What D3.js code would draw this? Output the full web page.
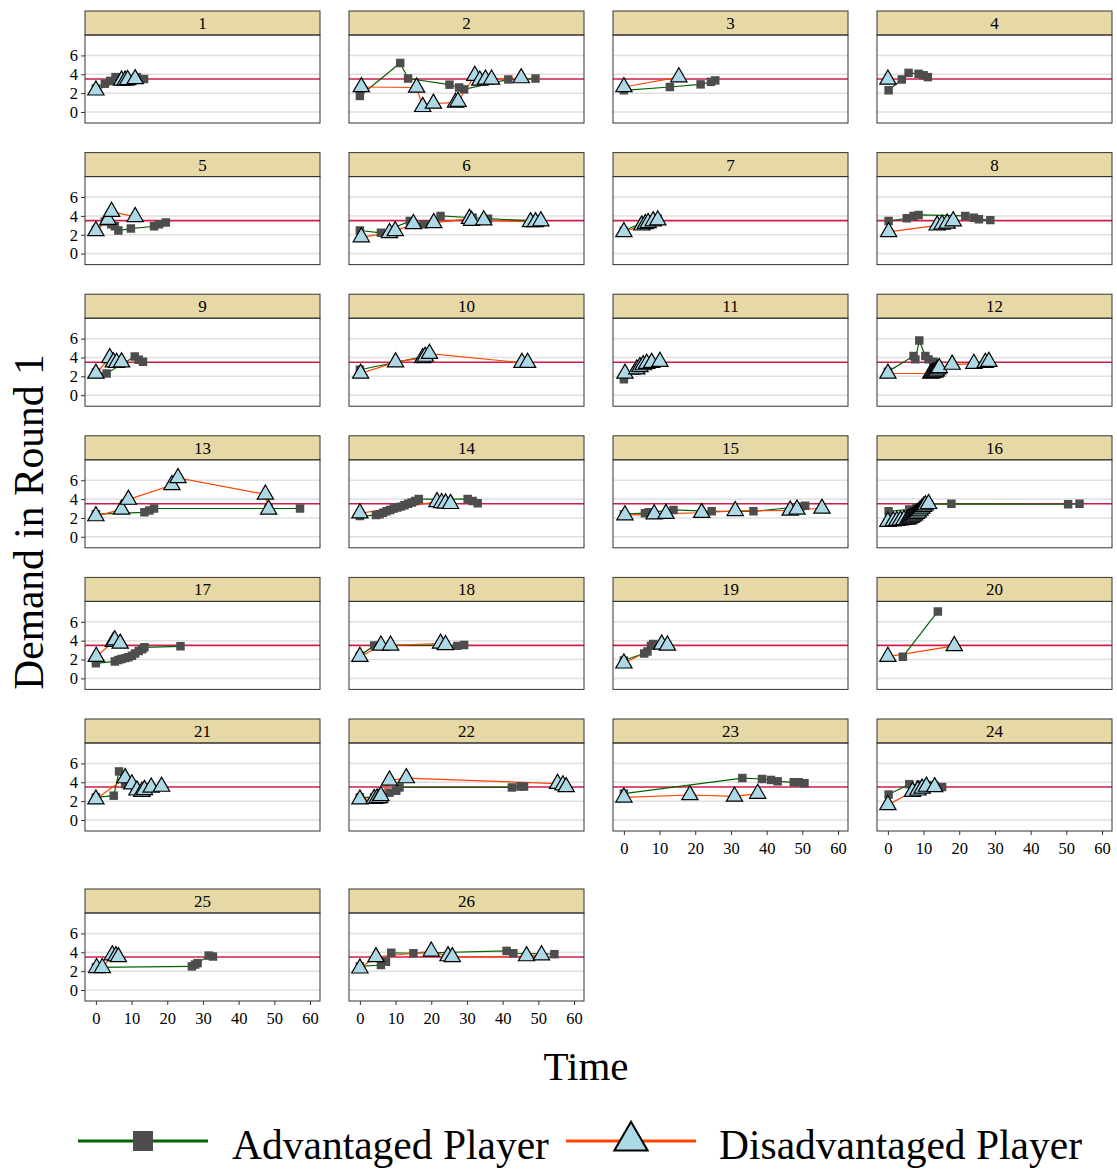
<!DOCTYPE html>
<html>
<head>
<meta charset="utf-8">
<script src="https://cdn.jsdelivr.net/npm/d3@7"></script>
<style>
  body { margin: 0; background: #fff; }
  svg text { font-family: "Liberation Serif", "Times New Roman", serif !important; fill: #000; }
</style>
</head>
<body>
<svg id="chart" width="1117" height="1174"></svg>
<script>
// panel ids, axis ticks and the reference demand line
var panelLabels = d3.range(1, 27).map(String);
var xTicks = [0, 10, 20, 30, 40, 50, 60];
var yTicks = [0, 2, 4, 6];
var referenceDemand = 3.5;
var seriesNames = ["Advantaged Player", "Disadvantaged Player"];

// [time, demand] per panel
var advantaged = [
  [[0,2.5],[2.5,3.0],[4,3.3],[5.5,3.7],[7,3.6],[8.5,3.5],[11.5,3.7],[13.5,3.5]],
  [[0,1.7],[11.3,5.2],[13.5,3.55],[25.1,2.9],[27.8,2.6],[29.2,2.4],[41.6,3.45],[49.2,3.55]],
  [[0,2.3],[12.9,2.65],[21.5,2.93],[24.4,3.2],[25.6,3.35]],
  [[0.2,2.3],[3.9,3.45],[5.8,4.15],[8.6,4.05],[10,3.9],[11.2,3.7]],
  [[0,2.5],[2.5,3.4],[4.3,3.1],[5.3,2.9],[6.3,2.45],[9.8,2.65],[16.3,2.9],[17.7,3.1],[19.6,3.3]],
  [[0,2.45],[5.9,2.2],[14,3.45],[17.8,3.1],[22.6,4.0],[31.6,3.8],[35.9,3.7],[49.7,3.45]],
  [[0,2.4],[5.5,3.35],[7,3.5],[8.5,3.6],[9.5,3.7]],
  [[0.2,3.45],[5.3,3.75],[7.2,4.0],[8.6,4.1],[21.7,4.0],[24.1,3.8],[25.5,3.65],[28.7,3.55]],
  [[0,2.4],[3,2.3],[10.9,4.1],[12,3.75],[13.2,3.55]],
  [[0,2.7],[18.5,4.15],[19.5,4.25]],
  [[0,1.7],[3.5,2.6],[4.5,2.8],[5.5,3.0],[7,3.2]],
  [[0,2.5],[7.2,4.15],[7.7,3.8],[8.8,5.8],[10.5,4.15],[11.4,3.8],[12.8,3.55]],
  [[0,2.4],[13.6,2.6],[15,2.8],[16.3,3.0],[48.4,3.0],[57.2,3.0]],
  [[0,2.2],[4.5,2.3],[5.5,2.4],[6.5,2.55],[7.5,2.7],[8.5,2.85],[9.5,3.0],[10.5,3.1],[11.5,3.2],[12.5,3.35],[13.5,3.5],[14.5,3.65],[15.5,3.8],[16.5,4.0],[30.2,4.0],[31.6,3.8],[33,3.55]],
  [[0,2.4],[5.9,2.5],[7,2.6],[13.9,2.85],[24.6,2.7],[36.3,2.7],[49.5,3.2],[50.8,3.3]],
  [[0.2,2.7],[6,2.9],[8,3.1],[10,3.3],[11.5,3.45],[17.8,3.5],[50.5,3.45],[53.7,3.5]],
  [[0,1.6],[5.3,1.8],[6.3,1.95],[7.2,2.05],[8.2,2.15],[9.1,2.25],[10.1,2.4],[11,2.65],[12,2.9],[13,3.1],[13.6,3.3],[23.7,3.4]],
  [[0,2.4],[4,3.5],[22.6,3.5],[27.3,3.45],[29.2,3.55]],
  [[0,1.9],[5.7,2.65],[6.6,2.85],[7.6,3.45],[8.2,3.65]],
  [[4.2,2.3],[14,7.1]],
  [[0,2.4],[5.0,2.58],[6.5,5.15],[8.2,3.8],[11,3.4],[13,3.3],[15.5,3.45]],
  [[0,2.4],[4,2.4],[5.9,2.6],[8.3,2.9],[10.2,3.1],[11.1,3.45],[42.6,3.45],[45,3.55],[46,3.55]],
  [[0,2.8],[33.2,4.45],[38.7,4.35],[41.2,4.25],[43.1,4.1],[47.6,4.0],[49,4.0],[50.6,3.9]],
  [[0.2,2.7],[6,3.8],[9,3.75],[11,3.7],[13,3.65],[15.2,3.5]],
  [[0,2.4],[26.9,2.5],[27.8,2.7],[28.5,2.85],[31.6,3.65],[32.8,3.55]],
  [[0,2.5],[5.9,2.65],[7.3,3.0],[8.8,3.95],[15,3.9],[41.1,4.15],[43,3.9],[54.5,3.8]]
];

var disadvantaged = [
  [[0,2.3],[7.2,3.35],[8.2,3.35],[8.9,3.4],[11,3.5]],
  [[0.4,2.65],[15.9,2.6],[17.6,0.55],[20.6,0.9],[26.8,1.0],[27.5,1.1],[32.2,3.85],[33.6,3.35],[35.2,3.45],[36.9,3.45],[45.2,3.6]],
  [[0,2.65],[15.4,3.7]],
  [[0,3.45]],
  [[0,2.4],[3.4,3.6],[4.4,4.45],[11,3.9]],
  [[0.4,1.75],[8.3,2.2],[9.9,2.4],[15,3.15],[20.7,3.25],[30.7,3.7],[31.3,3.5],[34.7,3.55],[47.8,3.35],[49.2,3.35],[50.7,3.45]],
  [[0,2.3],[5,3.0],[6,3.15],[6.8,3.25],[8.2,3.45],[9.5,3.55]],
  [[0.2,2.3],[13.8,3.0],[15.2,3.1],[16.6,3.2],[18.3,3.45]],
  [[0,2.3],[3.9,3.95],[4.9,3.5],[5.8,3.45],[7.2,3.5]],
  [[0.2,2.3],[10,3.5],[17.6,3.95],[18.3,4.1],[19.5,4.4],[45.4,3.45],[47,3.45]],
  [[0.3,2.3],[3.6,2.75],[4.5,3.0],[5.4,3.2],[6.4,3.35],[7.8,3.45],[10.1,3.55]],
  [[0,2.3],[12.0,2.3],[12.4,2.35],[12.8,2.4],[13.2,2.45],[13.6,2.55],[14.0,2.75],[14.4,2.9],[18,3.25],[24.1,3.35],[27.3,3.45],[28.3,3.55]],
  [[0,2.2],[7.2,2.9],[9.1,3.95],[21.3,5.5],[23,6.25],[47.5,4.5],[48.4,2.9]],
  [[0,2.5],[21.6,3.7],[22.9,3.6],[24.0,3.55],[25.4,3.5]],
  [[0.3,2.3],[8.5,2.4],[11.8,2.45],[21.8,2.55],[31.2,2.75],[46.6,2.8],[48.5,2.9],[55.5,3.0]],
  [[0,1.6],[1.5,1.65],[2.5,1.7],[3.5,1.75],[4.5,1.8],[5.5,1.85],[6,1.95],[6.5,2.05],[7,2.15],[7.5,2.3],[8,2.45],[8.5,2.6],[9,2.8],[9.5,3.0],[10,3.2],[10.5,3.35],[11.4,3.5]],
  [[0.1,2.3],[4.9,3.9],[5.3,4.05],[6.8,3.7]],
  [[0,2.3],[5.9,3.5],[8.6,3.5],[22.6,3.7],[24,3.55]],
  [[0,1.6],[10.6,3.6],[12.2,3.5]],
  [[0,2.3],[18.6,3.45]],
  [[0,2.2],[8.2,4.45],[10.1,3.8],[11.5,3.15],[12.9,3.0],[13.6,3.2],[15.5,3.45],[18.4,3.55]],
  [[0,2.2],[4,2.25],[4.8,2.3],[5.5,2.35],[5.9,2.55],[8.3,4.2],[13,4.45],[55.4,3.85],[56.9,3.7],[57.8,3.5]],
  [[0,2.4],[18.5,2.65],[31,2.5],[37.5,2.8]],
  [[0,1.6],[6.9,3.0],[8.4,3.15],[9.6,3.35],[10.8,3.55],[13.1,3.5]],
  [[0.2,2.35],[1.8,2.35],[4.6,3.7],[5.6,3.6],[6.3,3.5]],
  [[0,2.3],[4.5,3.5],[20,4.1],[24.7,3.6],[25.9,3.5],[46.7,3.6],[50.9,3.7]]
];

var advColor = "#006400", disColor = "#ff4500";
var squareFill = "#4d4d4d", triFill = "#add8e6";
var serif = "'Liberation Serif', 'Times New Roman', serif";

var svg = d3.select("#chart");

var colLeft = [85, 349, 613, 877];
var rowTop = [11, 152.6, 294.2, 435.8, 577.4, 719, 889];
var panelW = 235, stripH = 24, plotH = 88;

var x = d3.scaleLinear().domain([-3.05, 62.8]).range([0, panelW]);
var y = d3.scaleLinear().domain([-1.17, 8.17]).range([plotH, 0]);

var line = d3.line().x(d => x(d[0])).y(d => y(d[1]));
var square = d3.symbol(d3.symbolSquare, 72);
var triangle = d3.symbol(d3.symbolTriangle, 115);

panelLabels.forEach(function (label, i) {
    var col = i % 4, row = Math.floor(i / 4);
    var g = svg.append("g").attr("transform", "translate(" + colLeft[col] + "," + rowTop[row] + ")");

    //strip
    g.append("rect").attr("width", panelW).attr("height", stripH)
        .attr("fill", "#e6d9a6").attr("stroke", "#333").attr("stroke-width", 1);
    g.append("text").attr("x", panelW / 2).attr("y", stripH / 2 + 6)
        .attr("text-anchor", "middle").attr("font-size", 17).style("font-family", serif).text(label);

    var p = g.append("g").attr("transform", "translate(0," + stripH + ")");
    p.append("clipPath").attr("id", "clip" + i)
        .append("rect").attr("width", panelW).attr("height", plotH);

    //grid
    p.selectAll(".grid").data(yTicks).enter().append("line")
        .attr("x1", 0).attr("x2", panelW)
        .attr("y1", d => y(d)).attr("y2", d => y(d))
        .attr("stroke", "#e0e0e0").attr("stroke-width", 1.5);

    var c = p.append("g").attr("clip-path", "url(#clip" + i + ")");

    c.append("line").attr("x1", 0).attr("x2", panelW)
        .attr("y1", y(referenceDemand)).attr("y2", y(referenceDemand))
        .attr("stroke", "#d01c46").attr("stroke-width", 1.6);

    c.append("path").datum(advantaged[i]).attr("d", line)
        .attr("fill", "none").attr("stroke", advColor).attr("stroke-width", 1.2);
    c.append("path").datum(disadvantaged[i]).attr("d", line)
        .attr("fill", "none").attr("stroke", disColor).attr("stroke-width", 1.2);

    c.selectAll(".sq").data(advantaged[i]).enter().append("path")
        .attr("d", square)
        .attr("transform", d => "translate(" + x(d[0]) + "," + y(d[1]) + ")")
        .attr("fill", squareFill);
    c.selectAll(".tri").data(disadvantaged[i]).enter().append("path")
        .attr("d", triangle)
        .attr("transform", d => "translate(" + x(d[0]) + "," + y(d[1]) + ")")
        .attr("fill", triFill).attr("stroke", "#000").attr("stroke-width", 1.2);

    p.append("rect").attr("width", panelW).attr("height", plotH)
        .attr("fill", "none").attr("stroke", "#333").attr("stroke-width", 1);

    //y axis only in the first column
    if (col == 0) {
        var ya = p.append("g").call(d3.axisLeft(y).tickValues(yTicks).tickSize(4).tickPadding(3));
        ya.attr("font-family", null);
        ya.select(".domain").remove();
        ya.selectAll("line").attr("stroke", "#333");
        ya.selectAll("text").attr("font-size", 16.5).style("font-family", serif).attr("fill", "#000");
    }
    //x axis only where nothing is below
    if (i + 4 >= panelLabels.length) {
        var xa = p.append("g").attr("transform", "translate(0," + plotH + ")")
            .call(d3.axisBottom(x).tickValues(xTicks).tickSize(4).tickPadding(7));
        xa.attr("font-family", null);
        xa.select(".domain").remove();
        xa.selectAll("line").attr("stroke", "#333");
        xa.selectAll("text").attr("font-size", 16.5).style("font-family", serif).attr("fill", "#000");
    }
});

//axis titles
svg.append("text").attr("transform", "translate(43,522) rotate(-90)")
    .attr("text-anchor", "middle").attr("font-size", 41.5).style("font-family", serif).text("Demand in Round 1");
svg.append("text").attr("x", 586).attr("y", 1080)
    .attr("text-anchor", "middle").attr("font-size", 41).style("font-family", serif).text("Time");

//legend
var legendY = 1141;
var legendItems = [
    { name: seriesNames[0], x0: 78, color: advColor, textX: 232 },
    { name: seriesNames[1], x0: 566, color: disColor, textX: 719 }
];
legendItems.forEach(function (d, k) {
    svg.append("line").attr("x1", d.x0).attr("x2", d.x0 + 130)
        .attr("y1", legendY).attr("y2", legendY)
        .attr("stroke", d.color).attr("stroke-width", 3);
    var m = svg.append("path").attr("transform", "translate(" + (d.x0 + 65) + "," + legendY + ")");
    if (k == 0) m.attr("d", d3.symbol(d3.symbolSquare, 400)).attr("fill", squareFill);
    else m.attr("d", d3.symbol(d3.symbolTriangle, 480)).attr("fill", triFill).attr("stroke", "#000").attr("stroke-width", 2);
    svg.append("text").attr("x", d.textX).attr("y", legendY + 18)
        .attr("font-size", 41.5).style("font-family", serif).text(d.name);
});
</script>
</body>
</html>
